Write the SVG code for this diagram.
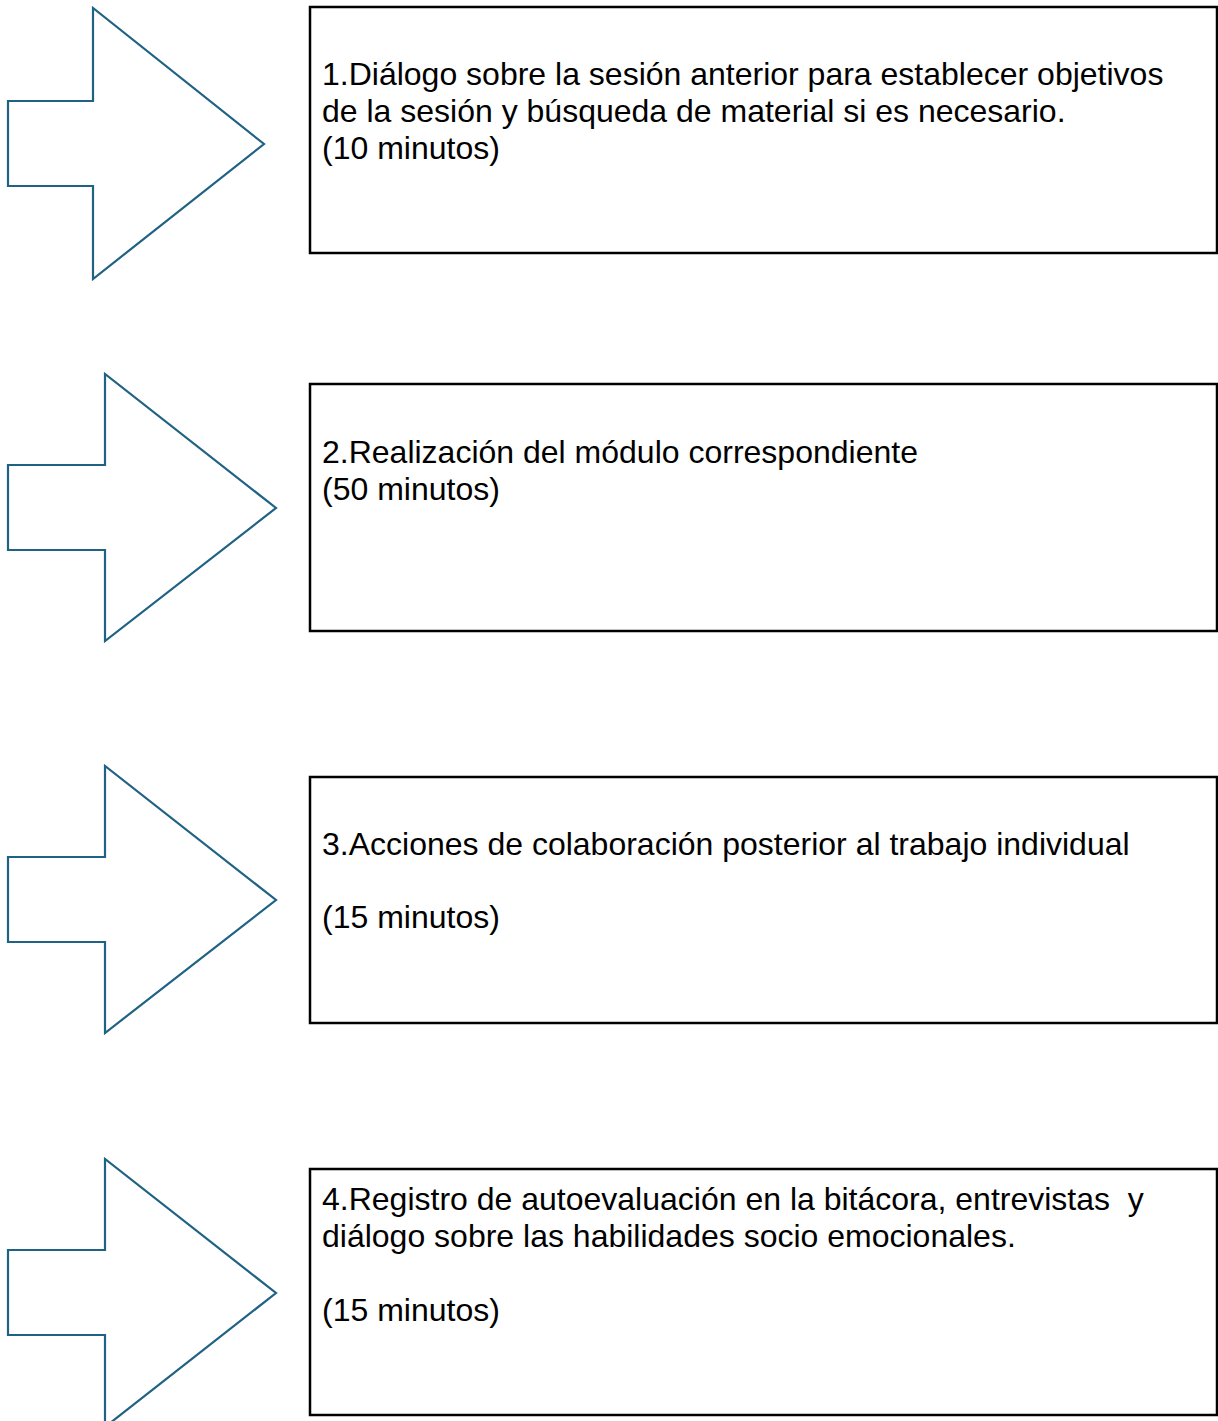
<svg xmlns="http://www.w3.org/2000/svg" width="1218" height="1421" viewBox="0 0 1218 1421">
<style>
.arrow{fill:#ffffff;stroke:#1f6283;stroke-width:2.2;stroke-linejoin:miter}
.box{fill:#ffffff;stroke:#000000;stroke-width:2.5}
.t{font-family:"Liberation Sans",Arial,sans-serif;font-size:32px;fill:#000000}
</style>
<rect x="0" y="0" width="1218" height="1421" fill="#ffffff"/>
<g id="connectors">
<polygon id="arrow1" class="arrow" points="8,101 93,101 93,8 264,144 93,279 93,186 8,186"/>
<polygon id="arrow2" class="arrow" points="8,465 105,465 105,374 276,508 105,641 105,550 8,550"/>
<polygon id="arrow3" class="arrow" points="8,857 105,857 105,766 276,900 105,1033 105,942 8,942"/>
<polygon id="arrow4" class="arrow" points="8,1250 105,1250 105,1159 276,1293 105,1427 105,1335 8,1335"/>
</g>
<g id="node1">
<rect class="box" x="310" y="7" width="907" height="246"/>
<text class="t" x="322" y="85">1.Diálogo sobre la sesión anterior para establecer objetivos</text>
<text class="t" x="322" y="122">de la sesión y búsqueda de material si es necesario.</text>
<text class="t" x="322" y="159">(10 minutos)</text>
</g>
<g id="node2">
<rect class="box" x="310" y="384" width="907" height="247"/>
<text class="t" x="322" y="463">2.Realización del módulo correspondiente</text>
<text class="t" x="322" y="500">(50 minutos)</text>
</g>
<g id="node3">
<rect class="box" x="310" y="777" width="907" height="246"/>
<text class="t" x="322" y="855">3.Acciones de colaboración posterior al trabajo individual</text>
<text class="t" x="322" y="928">(15 minutos)</text>
</g>
<g id="node4">
<rect class="box" x="310" y="1169" width="907" height="246"/>
<text class="t" x="322" y="1210" xml:space="preserve">4.Registro de autoevaluación en la bitácora, entrevistas  y</text>
<text class="t" x="322" y="1247">diálogo sobre las habilidades socio emocionales.</text>
<text class="t" x="322" y="1321">(15 minutos)</text>
</g>
</svg>
